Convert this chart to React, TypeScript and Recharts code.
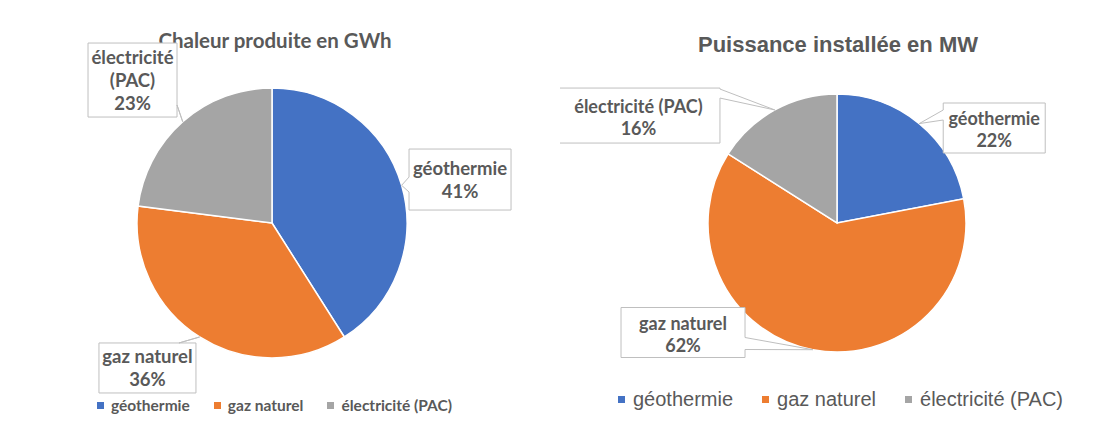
import React from 'react';
import { PieChart, Pie, Cell, Legend } from 'recharts';

const categories = ['géothermie', 'gaz naturel', 'électricité (PAC)'];
const chaleurGWh = [41, 36, 23];
const puissanceMW = [22, 62, 16];
const colors = ['#4472C4', '#ED7D31', '#A5A5A5'];

// how each data label is split into lines
const chaleurLabelLines = [['géothermie'], ['gaz naturel'], ['électricité', '(PAC)']];
const puissanceLabelLines = [['géothermie'], ['gaz naturel'], ['électricité (PAC)']];

const TEXT = '#595959';
const BORDER = '#bfbfbf';
const RADIAN = Math.PI / 180;

type Box = { dx: number; dy: number; w: number; h: number; side: 'left' | 'right' | 'top'; a: number; b: number };

// callout box placement relative to the slice's outer edge point
const chaleurBoxes: Box[] = [
  { dx: 58.4, dy: -5.8, w: 102, h: 61, side: 'left', a: 28, b: 43 },
  { dx: -52.2, dy: 31, w: 97, h: 50, side: 'top', a: 80, b: 80 },
  { dx: -50.2, dy: -41.7, w: 89, h: 74, side: 'right', a: 62, b: 62 },
];
const puissanceBoxes: Box[] = [
  { dx: 75, dy: 4.4, w: 102, h: 50, side: 'left', a: 7, b: 17 },
  { dx: -129.8, dy: -17.2, w: 124, h: 50, side: 'right', a: 30, b: 42 },
  { dx: -136.4, dy: 5.6, w: 163, h: 55, side: 'right', a: 1, b: 10 },
];

const makeData = (values: number[]) => categories.map((name, i) => ({ name, value: values[i] }));

const makeLabel = (boxes: Box[], lines: string[][], fontSize: number, lineHeight: number, shift: number) => (props: any) => {
  const { cx, cy, midAngle, outerRadius, percent, index } = props;
  const ax = cx + outerRadius * Math.cos(-midAngle * RADIAN);
  const ay = cy + outerRadius * Math.sin(-midAngle * RADIAN);
  const bx = boxes[index];
  const x0 = ax + bx.dx - bx.w / 2;
  const y0 = ay + bx.dy - bx.h / 2;
  const x1 = x0 + bx.w;
  const y1 = y0 + bx.h;
  let d = `M${x0},${y0}`;
  if (bx.side === 'top') d += ` L${x0 + bx.a},${y0} L${ax},${ay} L${x0 + bx.b},${y0}`;
  d += ` L${x1},${y0}`;
  if (bx.side === 'right') d += ` L${x1},${y0 + bx.a} L${ax},${ay} L${x1},${y0 + bx.b}`;
  d += ` L${x1},${y1} L${x0},${y1}`;
  if (bx.side === 'left') d += ` L${x0},${y0 + bx.b} L${ax},${ay} L${x0},${y0 + bx.a}`;
  d += ' Z';
  const rows = [...lines[index], `${Math.round(percent * 100)}%`];
  const midY = y0 + bx.h / 2 + shift;
  const startY = midY - ((rows.length - 1) * lineHeight) / 2;
  return (
    <g>
      <path d={d} fill="#fff" stroke={BORDER} strokeWidth={1} />
      {rows.map((r, i) => (
        <text
          key={i}
          x={x0 + bx.w / 2}
          y={startY + i * lineHeight}
          textAnchor="middle"
          dominantBaseline="central"
          fontFamily="Lato"
          fontWeight="bold"
          fontSize={fontSize}
          fill={TEXT}
        >
          {r}
        </text>
      ))}
    </g>
  );
};

const makeLegend = (font: string, fontSize: number, weight: string, sq: number, gap: number, spacing: number) => () => (
  <div style={{ display: 'flex', alignItems: 'center', whiteSpace: 'nowrap' }}>
    {categories.map((c, i) => (
      <div key={c} style={{ display: 'flex', alignItems: 'center', marginRight: spacing }}>
        <span style={{ width: sq, height: sq, background: colors[i], marginRight: gap, display: 'inline-block' }} />
        <span style={{ fontFamily: font, fontSize, fontWeight: weight as any, color: TEXT }}>{c}</span>
      </div>
    ))}
  </div>
);

export default function App() {
  return (
    <div style={{ position: 'absolute', left: 0, top: 0, width: 1100, height: 445, background: '#fff' }}>
      <div
        style={{
          position: 'absolute', left: 75, width: 400, top: 26, textAlign: 'center',
          fontFamily: 'Lato', fontWeight: 'bold', fontSize: 20.5, color: TEXT, lineHeight: '28px',
        }}
      >
        Chaleur produite en GWh
      </div>
      <div
        style={{
          position: 'absolute', left: 638, width: 400, top: 31, textAlign: 'center',
          fontFamily: '"Liberation Sans", Arial', fontWeight: 'bold', fontSize: 22, color: TEXT, lineHeight: '28px',
        }}
      >
        Puissance installée en MW
      </div>
      <div style={{ position: 'absolute', left: 0, top: 0 }}>
        <PieChart width={560} height={445} margin={{ top: 0, right: 0, bottom: 0, left: 0 }}>
          <Pie
            data={makeData(chaleurGWh)}
            dataKey="value"
            nameKey="name"
            cx={272}
            cy={223}
            outerRadius={135}
            startAngle={90}
            endAngle={-270}
            stroke="#fff"
            strokeWidth={1.5}
            labelLine={false}
            label={makeLabel(chaleurBoxes, chaleurLabelLines, 18.5, 23, 0)}
            isAnimationActive={false}
          >
            {chaleurGWh.map((_, i) => (
              <Cell key={i} fill={colors[i]} />
            ))}
          </Pie>
          <Legend
            content={makeLegend('Lato', 15.5, 'bold', 7, 7, 24)}
            wrapperStyle={{ left: 97, top: 396, width: 'auto' }}
          />
        </PieChart>
      </div>
      <div style={{ position: 'absolute', left: 560, top: 0 }}>
        <PieChart width={540} height={445} margin={{ top: 0, right: 0, bottom: 0, left: 0 }}>
          <Pie
            data={makeData(puissanceMW)}
            dataKey="value"
            nameKey="name"
            cx={277}
            cy={223}
            outerRadius={129}
            startAngle={90}
            endAngle={-270}
            stroke="#fff"
            strokeWidth={1.5}
            labelLine={false}
            label={makeLabel(puissanceBoxes, puissanceLabelLines, 18, 22, 1)}
            isAnimationActive={false}
          >
            {puissanceMW.map((_, i) => (
              <Cell key={i} fill={colors[i]} />
            ))}
          </Pie>
          <Legend
            content={makeLegend('"Liberation Sans", Arial', 20, 'normal', 7, 8, 29)}
            wrapperStyle={{ left: 58, top: 388, width: 'auto' }}
          />
        </PieChart>
      </div>
    </div>
  );
}
